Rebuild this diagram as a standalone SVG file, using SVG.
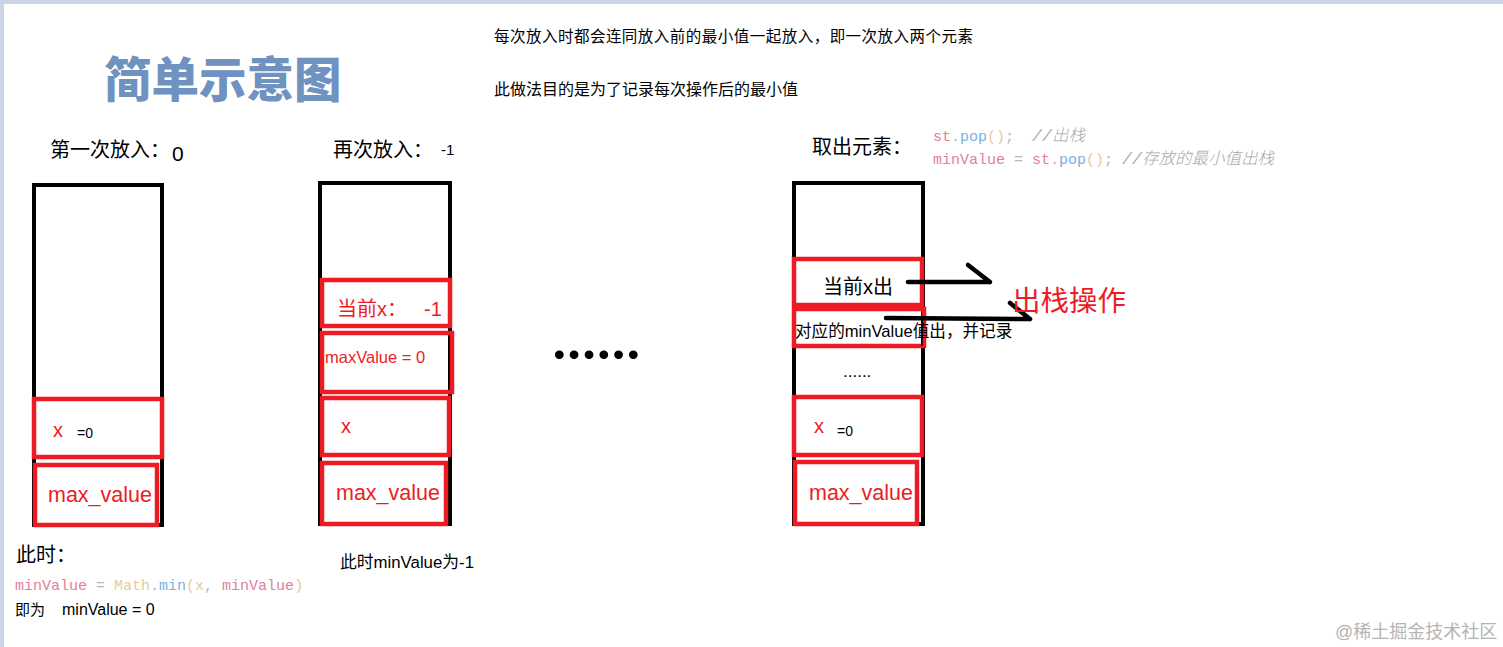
<svg xmlns="http://www.w3.org/2000/svg" width="1503" height="647" viewBox="0 0 1503 647">
<style>
text{font-family:"Liberation Sans","Noto Sans CJK SC",sans-serif;}
.frame{fill:#fff;stroke:#000;stroke-width:4;}
.cell{fill:none;stroke:#ed1c24;stroke-width:4.5;}
.red{fill:#ed1c24;}
.blk{fill:#000;}
.mono{font-family:"Liberation Mono","Noto Sans CJK SC",monospace;font-size:15px;white-space:pre;}
.pk{fill:#e0809a;} .bl{fill:#7ab0e0;} .tn{fill:#e5cc9a;} .gy{fill:#b8b8b8;} .cm{fill:#a8a8a8;font-style:italic;font-size:16.5px;font-weight:300;}
.arrow{stroke:#000;stroke-width:4.5;stroke-linecap:round;fill:none;}
</style>
<rect x="0" y="0" width="1503" height="647" fill="#fff"/>
<rect x="0" y="0" width="1503" height="4" fill="#cdd3e6"/>
<rect x="0" y="0" width="4" height="647" fill="#cdd3e6"/>

<g id="title">
<text x="104" y="97" font-size="47.5" font-weight="900" fill="#7092c0" style="font-family:'Noto Sans CJK SC',sans-serif">简单示意图</text>
</g>

<g id="notes">
<text x="494" y="42" font-size="15.5" class="blk" textLength="479">每次放入时都会连同放入前的最小值一起放入，即一次放入两个元素</text>
<text x="494" y="95" font-size="16" class="blk">此做法目的是为了记录每次操作后的最小值</text>
</g>

<g id="stack1">
<text x="50" y="157" font-size="20" class="blk">第一次放入：</text>
<text x="172" y="161" font-size="21" class="blk">0</text>
<rect class="frame" x="34" y="185" width="128" height="340"/>
<rect class="cell" x="34" y="399" width="128" height="58"/>
<text x="53" y="437" font-size="20" class="red">x</text>
<text x="77" y="438" font-size="14" class="blk">=0</text>
<rect class="cell" x="35" y="465" width="122" height="60"/>
<text x="48" y="502" font-size="21.5" class="red">max_value</text>
</g>

<g id="stack2">
<text x="333" y="157" font-size="20" class="blk">再次放入：</text>
<text x="441" y="155" font-size="15" class="blk">-1</text>
<rect class="frame" x="320" y="183" width="130" height="341"/>
<rect class="cell" x="322" y="280" width="128" height="46"/>
<text x="337" y="316" font-size="20" class="red">当前x：</text>
<text x="424" y="316" font-size="20" class="red">-1</text>
<rect class="cell" x="322" y="333" width="130" height="59"/>
<text x="325" y="363" font-size="16.5" class="red">maxValue = 0</text>
<rect class="cell" x="322" y="398" width="127" height="57"/>
<text x="341" y="433" font-size="20" class="red">x</text>
<rect class="cell" x="322" y="463" width="124" height="61"/>
<text x="336" y="500" font-size="21.5" class="red">max_value</text>
</g>

<g id="ellipsis">
<text x="553" y="359" font-size="53" font-weight="900" class="blk" style="font-family:Lato,'Liberation Sans',sans-serif" letter-spacing="2.2">......</text>
</g>

<g id="stack3">
<text x="812" y="154" font-size="20" class="blk">取出元素：</text>
<text class="mono" x="933" y="141" xml:space="preserve"><tspan class="pk">st</tspan><tspan class="gy">.</tspan><tspan class="bl">pop</tspan><tspan class="tn">()</tspan><tspan class="gy">;  </tspan><tspan class="cm">//出栈</tspan></text>
<text class="mono" x="933" y="164" xml:space="preserve"><tspan class="pk">minValue</tspan><tspan class="gy"> = </tspan><tspan class="pk">st</tspan><tspan class="gy">.</tspan><tspan class="bl">pop</tspan><tspan class="tn">()</tspan><tspan class="gy">; </tspan><tspan class="cm">//存放的最小值出栈</tspan></text>
<rect class="frame" x="794" y="183" width="129" height="341"/>
<rect class="cell" x="794" y="259" width="128" height="46"/>
<text x="823" y="294" font-size="20" class="blk">当前x出</text>
<rect class="cell" x="794" y="309" width="130" height="37"/>
<line x1="922" y1="318" x2="922" y2="346" stroke="#000" stroke-width="1.5"/>
<text x="795" y="337" font-size="16.6" class="blk">对应的minValue值出，并记录</text>
<text x="843" y="377" font-size="17" class="blk">......</text>
<rect class="cell" x="794" y="397" width="128" height="58"/>
<text x="814" y="433" font-size="20" class="red">x</text>
<text x="837" y="436" font-size="14" class="blk">=0</text>
<rect class="cell" x="795" y="462" width="122" height="62"/>
<text x="809" y="500" font-size="21.5" class="red">max_value</text>
</g>

<g id="connectors">
<path class="arrow" d="M908,282 L990,282 M968,265 L990,282"/>
<path class="arrow" d="M886,318 L1030,319 M1010,303 L1030,319"/>
</g>

<g id="pop-label">
<text x="1012" y="311" font-size="28.5" class="red">出栈操作</text>
</g>

<g id="bottom-notes">
<text x="16" y="562" font-size="20" class="blk">此时：</text>
<text class="mono" x="15" y="590" xml:space="preserve"><tspan class="pk">minValue</tspan><tspan class="gy"> = </tspan><tspan class="tn">Math</tspan><tspan class="gy">.</tspan><tspan class="bl">min</tspan><tspan class="tn">(x</tspan><tspan class="gy">, </tspan><tspan class="pk">minValue</tspan><tspan class="tn">)</tspan></text>
<text x="15" y="615" font-size="15" class="blk">即为</text>
<text x="62" y="615" font-size="16" class="blk">minValue = 0</text>
<text x="340" y="568" font-size="16.8" class="blk">此时minValue为-1</text>
</g>

<g id="watermark">
<text x="1335" y="638" font-size="18" fill="#b4b4b4">@稀土掘金技术社区</text>
</g>
</svg>
